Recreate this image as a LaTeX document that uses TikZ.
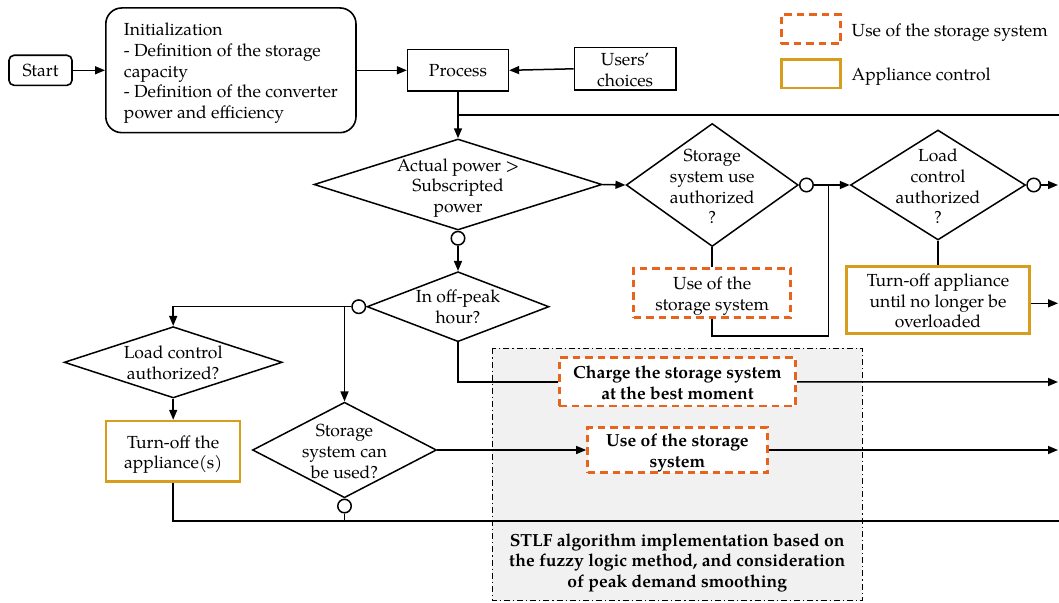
\documentclass[tikz,border=0pt]{standalone}
\usepackage{fontspec}
\setmainfont{TeX Gyre Pagella}
\usetikzlibrary{shapes.geometric,arrows.meta}
\definecolor{orng}{RGB}{232,100,28}
\definecolor{gld}{RGB}{214,158,28}
\definecolor{bggray}{RGB}{241,241,241}
\tikzset{
  every node/.style={font=\fontsize{17.5pt}{20.7pt}\selectfont},
  ln/.style={line width=1.5pt, draw=black},
  arr/.style={ln, -{Triangle[length=10pt,width=8pt]}},
  bx/.style={rectangle, draw=black, line width=1.6pt, fill=white, inner sep=0pt, align=center},
  obx/.style={rectangle, draw=orng, line width=2.7pt, dash pattern=on 7.5pt off 5pt, fill=white, inner sep=0pt, align=center},
  gbx/.style={rectangle, draw=gld, line width=2.5pt, fill=white, inner sep=0pt, align=center},
  dia/.style={diamond, draw=black, line width=1.5pt, fill=white, inner sep=0pt},
  dtxt/.style={align=center, inner sep=0pt},
  circ/.style={circle, draw=black, line width=1.5pt, fill=white, minimum size=13.5pt, inner sep=0pt},
}
\begin{document}
\begin{tikzpicture}[x=1pt,y=-1pt]
\useasboundingbox (0,0) rectangle (1059,602);
% background area
\draw[fill=bggray, line width=1.1pt, dash pattern=on 6pt off 3pt on 1.2pt off 3pt] (492.2,348.3) rectangle (862.2,600.7);
\node[dtxt, font=\fontsize{17.5pt}{20.7pt}\selectfont\bfseries] (stlf) at (677.2,563) {STLF algorithm implementation based on\\the fuzzy logic method, and consideration\\of peak demand smoothing};

% legend
\node[obx, minimum width=59.4pt, minimum height=29pt] (legA) at (811,29.2) {};
\node[anchor=west, inner sep=0pt] (legAt) at (851.5,33) {Use of the storage system};
\node[gbx, minimum width=59.4pt, minimum height=28.7pt] (legB) at (811,73.7) {};
\node[anchor=west, inner sep=0pt] (legBt) at (851.5,77) {Appliance control};

% nodes
\node[bx, rounded corners=5pt, minimum width=63pt, minimum height=30pt] (start) at (40.5,70.3) {Start};
\node[bx, rounded corners=16pt, minimum width=250.2pt, minimum height=124.7pt] (init) at (230.9,70.3) {};
\node[dtxt, align=left] (initt) at (230.9,73.3)
  {Initialization\\- Definition of the storage\\capacity\\- Definition of the converter\\power and efficiency};
\node[bx, minimum width=100.7pt, minimum height=41.3pt] (proc) at (458,70.3) {Process};
\node[bx, minimum width=101.2pt, minimum height=42.3pt] (users) at (625.1,68.8) {};
\node[dtxt] (userst) at (625.1,70) {Users’\\choices};

\node[dia, minimum width=288pt, minimum height=91pt] (d1) at (458,184.5) {};
\node[dtxt] (d1t) at (458,188) {Actual power >\\Subscripted\\power};
\node[circ, anchor=north] (c1) at (d1.south) {};

\node[dia, minimum width=172pt, minimum height=123pt] (su) at (712.2,185) {};
\node[dtxt] (sut) at (712.2,186.5) {Storage\\system use\\authorized\\?};
\node[circ, anchor=west] (c2) at (su.east) {};
\node[obx, minimum width=157pt, minimum height=49.4pt] (usea) at (712.2,293) {};
\node[dtxt] (useat) at (712.2,296) {Use of the\\storage system};

\node[dia, minimum width=175pt, minimum height=110pt] (lc2) at (938,185) {};
\node[dtxt] (lc2t) at (938,186.5) {Load\\control\\authorized\\?};
\node[circ, anchor=west] (c3) at (lc2.east) {};
\node[gbx, minimum width=183.2pt, minimum height=66.6pt] (ta) at (938,300) {};
\node[dtxt] (tat) at (938,301) {Turn-off appliance\\until no longer be\\overloaded};

\node[dia, minimum width=182pt, minimum height=70pt] (op) at (458,306.7) {};
\node[dtxt] (opt) at (458,306.7) {In off-peak\\hour?};
\node[circ, anchor=east] (c4) at (op.west) {};

\node[dia, minimum width=218pt, minimum height=71.3pt] (lc) at (173.2,362.3) {};
\node[dtxt] (lct) at (173.2,363) {Load control\\authorized?};
\node[gbx, minimum width=134pt, minimum height=60.3pt] (to) at (173.2,451.2) {};
\node[dtxt] (tot) at (173.2,454.5) {Turn-off the\\appliance(s)};

\node[dia, minimum width=184pt, minimum height=95.6pt] (sc) at (344.5,450) {};
\node[dtxt] (sct) at (344.5,451.5) {Storage\\system can\\be used?};
\node[circ, anchor=north] (c5) at (sc.south) {};

\node[obx, minimum width=236.3pt, minimum height=48.3pt] (charge) at (677.5,381.8) {};
\node[dtxt, font=\fontsize{17.5pt}{20.7pt}\selectfont\bfseries] (charget) at (677.5,383) {Charge the storage system\\at the best moment};
\node[obx, minimum width=179.8pt, minimum height=45.6pt] (useb) at (677.4,450) {};
\node[dtxt, font=\fontsize{17.5pt}{20.7pt}\selectfont\bfseries] (usebt) at (677.4,453) {Use of the storage\\system};

% free ends
\coordinate (top) at (1059,115);
\coordinate (r1) at (1058,185);
\coordinate (r2) at (1058,303.3);
\coordinate (r3) at (1058,382);
\coordinate (r4) at (1058,450);
\coordinate (eb) at (1059,521);
\coordinate (lp) at (828.6,336);

% connectors
\draw[arr] (start.east) -- (init.west);
\draw[arr] (init.east) -- (proc.west);
\draw[arr] (users.west) -- (proc.east);
\draw[arr] (proc.south) -- (d1.north);
\draw[ln] (proc.south |- top) -- (top);
\draw[arr] (d1.east) -- (su.west);
\draw[arr] (c1.south) -- (op.north);
\draw[arr] (c2.east) -- (lc2.west);
\draw[ln] (su.south) -- (usea.north);
\draw[ln] (usea.south) |- (lp) -- (lp |- c2.east);
\draw[arr] (c3.east) -- (r1);
\draw[ln] (lc2.south) -- (ta.north);
\draw[arr] (ta.east |- r2) -- (r2);
\draw[arr] (c4.west) -| (lc.north);
\draw[arr] (c4.west -| sc.north) -- (sc.north);
\draw[arr] (lc.south) -- (to.north);
\draw[ln] (to.south) |- (eb);
\draw[ln] (c5.south) -- (c5.south |- eb);
\draw[arr] (sc.east) -- (useb.west);
\draw[arr] (useb.east) -- (r4);
\draw[ln] (op.south) |- (charge.west);
\draw[arr] (charge.east) -- (r3);
\end{tikzpicture}
\end{document}
